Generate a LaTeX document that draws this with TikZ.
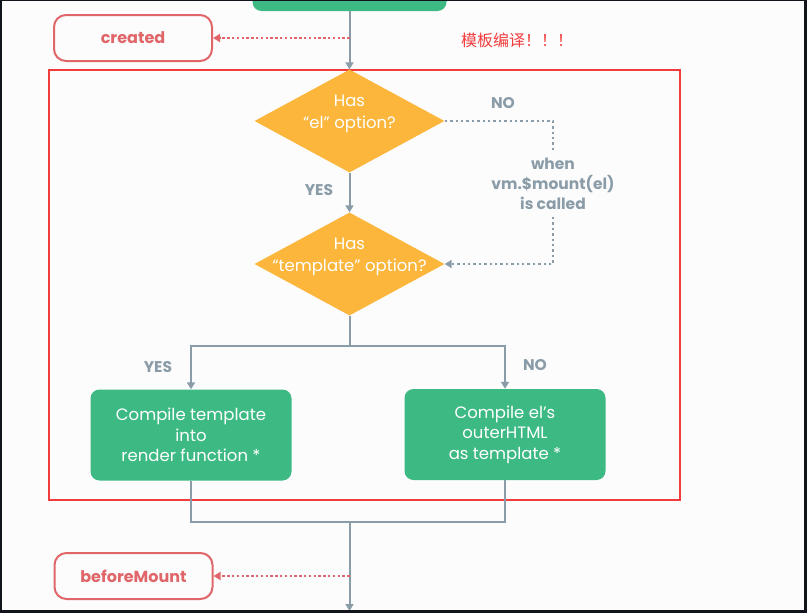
\documentclass[tikz,border=0pt]{standalone}
\usepackage{fontspec}
\setmainfont{Poppins}
\newfontfamily\cjkfont{Noto Sans CJK SC}
\usetikzlibrary{shapes.geometric,arrows.meta}
\definecolor{vuegreen}{HTML}{3DBA84}
\definecolor{hookred}{HTML}{E0666A}
\definecolor{flowgray}{HTML}{8A9CA8}
\definecolor{askorange}{HTML}{FBB63B}
\definecolor{framered}{HTML}{F23B3B}
\definecolor{screendark}{HTML}{11141A}

\tikzset{
  >={Triangle[length=7pt,width=8pt]},
  flow/.style={draw=flowgray, line width=2pt},
  hookline/.style={draw=hookred, line width=2.4pt, dash pattern=on 2.4pt off 2.4pt},
  askline/.style={draw=flowgray, line width=2.4pt, dash pattern=on 2.4pt off 3pt},
  hook/.style={draw=hookred, line width=2pt, rounded corners=12pt, minimum width=158pt, minimum height=46pt, text=hookred, font=\bfseries\fontsize{16}{18}\selectfont},
  ask/.style={diamond, fill=askorange, minimum width=190pt, minimum height=103pt, inner sep=0pt},
  asktext/.style={text=white, align=center, yshift=7pt, font=\fontsize{16.5}{22}\selectfont},
  act/.style={rectangle, fill=vuegreen, rounded corners=9pt, minimum width=201pt, minimum height=91pt, text=white, align=center, font=\fontsize{16.5}{20.5}\selectfont},
  tag/.style={text=flowgray, align=center, font=\bfseries\fontsize{15.5}{20}\selectfont}
}

\begin{document}
\begin{tikzpicture}[x=1pt,y=-1pt]
		\useasboundingbox (0,0) rectangle (807,613);
		\fill[screendark] (0,0) rectangle (807,613);
		\fill[white!99!black] (2,1) rectangle (804,610);

		% lifecycle boxes
		\node[act, minimum width=194pt, minimum height=46pt] (init) at (349.5,-12) {};
		\node[hook] (created) at (133,38) {created};
		\node[hook] (beforemount) at (133.5,576) {beforeMount};
		\node[text=framered, font=\cjkfont\fontsize{16}{16}\selectfont] (note) at (517,40) {模板编译！！！};

		% compile step
		\draw[framered, line width=2pt] (49,70) rectangle (680,500);
		\node[ask, label={[asktext]center:Has\\“el” option?}] (hasel) at (349.5,121) {};
		\node[ask, label={[asktext]center:Has\\“template” option?}] (hastpl) at (349.5,264) {};
		\node[act] (render) at (191,435) {Compile template\\into\\render function *};
		\node[act] (outer) at (505,434.5) {Compile el’s\\outerHTML\\as template *};
		\node[tag, inner sep=7pt] (when) at (553,184) {when\\vm.\$mount(el)\\is called};

		\node[tag] (yes1) at (319,190) {YES};
		\node[tag] (no1) at (503,103) {NO};
		\node[tag] (yes2) at (158,367) {YES};
		\node[tag] (no2) at (535,365) {NO};

		\coordinate (c1) at (349.5,38);
		\coordinate (c2) at (349.5,576);
		\coordinate (split) at (349.5,346);
		\coordinate (merge) at (349.5,522);
		\coordinate (down) at (349.5,611);

		\draw[flow, ->] (init) -- (hasel);
		\draw[hookline, ->] (c1) -- (created);
		\draw[flow, ->] (hasel) -- (hastpl);
		\draw[askline] (hasel.east) -| (when.north);
		\draw[askline, ->] (when.south) |- (hastpl.east);
		\draw[flow] (hastpl.south) -- (split);
		\draw[flow, ->] (split) -| (render.north);
		\draw[flow, ->] (split) -| (outer.north);
		\draw[flow] (render.south) |- (merge);
		\draw[flow] (outer.south) |- (merge);
		\draw[flow, ->] (merge) -- (down);
		\draw[hookline, ->] (c2) -- (beforemount);

		\fill[screendark] (0,0) rectangle (807,1);
		\fill[screendark] (0,610) rectangle (807,613);
\end{tikzpicture}
\end{document}
